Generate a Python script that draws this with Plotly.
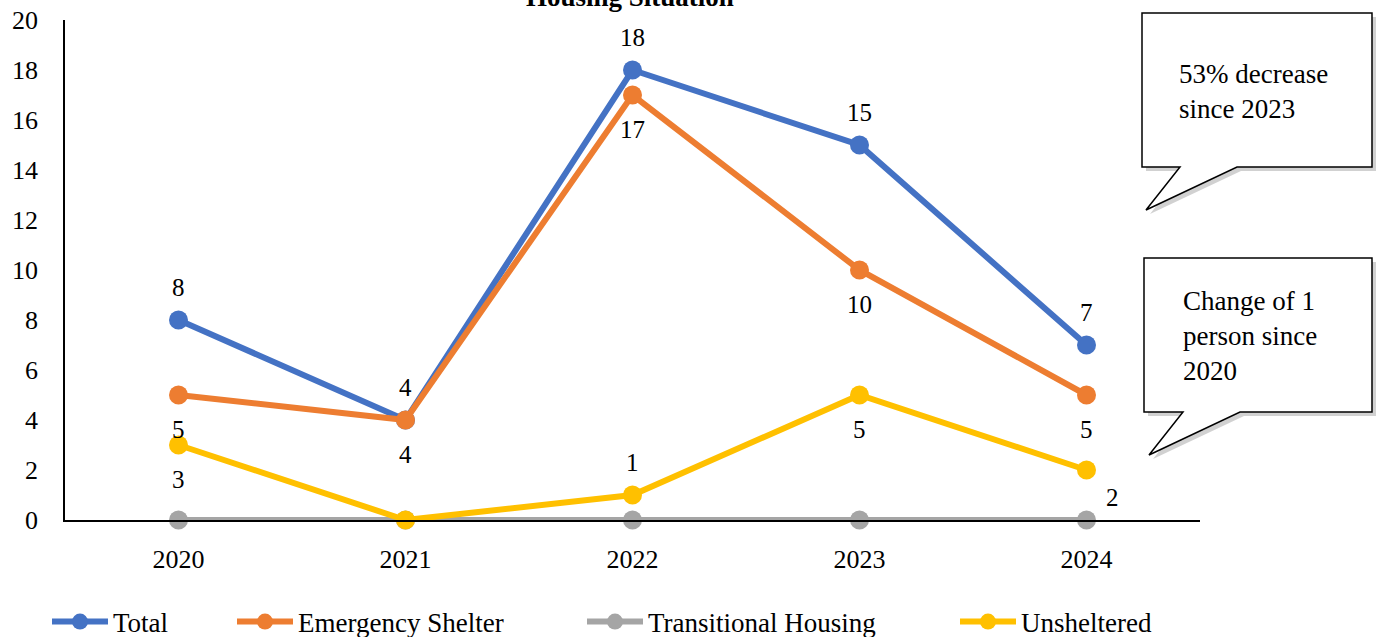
import plotly.graph_objects as go

# ---------------- data ----------------
years = ["2020", "2021", "2022", "2023", "2024"]
total = [8, 4, 18, 15, 7]
emergency_shelter = [5, 4, 17, 10, 5]
transitional_housing = [0, 0, 0, 0, 0]
unsheltered = [3, 0, 1, 5, 2]

series_names = ["Total", "Emergency Shelter", "Transitional Housing", "Unsheltered"]
y_ticks = [0, 2, 4, 6, 8, 10, 12, 14, 16, 18, 20]
chart_title = "Housing Situation"
callout_1 = "53% decrease<br>since 2023"
callout_2 = "Change of 1<br>person since<br>2020"

# ---------------- style ----------------
colors = ["#4472C4", "#ED7D31", "#A5A5A5", "#FFC000"]
FONT = "Liberation Serif, Times New Roman, serif"
W, H = 1376, 637
L, R, T, B = 65, 1200, 20, 520

# label placement per series (None = no label)
label_pos = [
    ["above", "above", "above", "above", "above"],
    ["below", "below", "below", "below", "below"],
    [None, None, None, None, None],
    ["below", None, "above", "below", "below_right"],
]
shift = {"above": (0, 33), "below": (0, -34), "below_right": (26, -27)}


def px_x(p):
    return (p - L) / (R - L)


def px_y(p):
    return (B - p) / (B - T)


def path_px(points):
    return "M " + " L ".join(f"{px_x(x):.5f},{px_y(y):.5f}" for x, y in points) + " Z"


values = [total, emergency_shelter, transitional_housing, unsheltered]

fig = go.Figure()
legend_ids = ["legend", "legend2", "legend3", "legend4"]
for name, vals, col, lg in zip(series_names, values, colors, legend_ids):
    fig.add_trace(go.Scatter(
        x=years, y=vals, name=name, mode="lines+markers",
        line=dict(color=col, width=6),
        marker=dict(color=col, size=19),
        cliponaxis=False, legend=lg,
    ))

annotations = []
for vals, poss in zip(values, label_pos):
    for i, (yv, p) in enumerate(zip(vals, poss)):
        if p is None:
            continue
        dx, dy = shift[p]
        annotations.append(dict(
            x=i, y=yv, xref="x", yref="y", text=str(yv), showarrow=False,
            xshift=dx, yshift=dy, font=dict(family=FONT, size=25, color="black"),
        ))

# title (cropped at top like the reference)
annotations.append(dict(
    x=px_x(630), y=px_y(-3), xref="paper", yref="paper", text=f"<b>{chart_title}</b>",
    showarrow=False, xanchor="center", yanchor="middle",
    font=dict(family=FONT, size=27, color="black"),
))

# callouts
box1 = [(1142, 13), (1372, 13), (1372, 167), (1237, 167), (1146, 210), (1180, 167), (1142, 167)]
box2 = [(1144, 258), (1372, 258), (1372, 412), (1240, 412), (1149, 455), (1183, 412), (1144, 412)]
shapes = []
for box in (box1, box2):
    shadow = [(x + 4, y + 4) for x, y in box]
    shapes.append(dict(type="path", xref="paper", yref="paper", path=path_px(shadow),
                       fillcolor="rgba(0,0,0,0.18)", line=dict(width=0), layer="above"))
    shapes.append(dict(type="path", xref="paper", yref="paper", path=path_px(box),
                       fillcolor="white", line=dict(color="black", width=1.5), layer="above"))

annotations.append(dict(
    x=px_x(1177), y=px_y(91), xref="paper", yref="paper", text=callout_1, showarrow=False,
    xanchor="left", yanchor="middle", align="left",
    font=dict(family=FONT, size=27, color="black"),
))
annotations.append(dict(
    x=px_x(1181), y=px_y(336), xref="paper", yref="paper", text=callout_2, showarrow=False,
    xanchor="left", yanchor="middle", align="left",
    font=dict(family=FONT, size=27, color="black"),
))

legend_x_px = [47, 232, 582, 955]
legend_common = dict(orientation="h", xanchor="left", yanchor="middle",
                     xref="container", yref="container", y=1 - 622 / H,
                     bgcolor="rgba(0,0,0,0)", itemwidth=56,
                     font=dict(family=FONT, size=27, color="black"))
layout_legends = {}
for lg, xp in zip(legend_ids, legend_x_px):
    layout_legends[lg] = dict(legend_common, x=xp / W)

fig.update_layout(
    width=W, height=H,
    margin=dict(l=L, r=W - R, t=T, b=H - B, pad=0),
    paper_bgcolor="white", plot_bgcolor="white",
    font=dict(family=FONT, size=25, color="black"),
    showlegend=True,
    xaxis=dict(type="category", range=[-0.5, 4.5], showgrid=False, zeroline=False,
               showline=True, linecolor="black", linewidth=1.5, ticks="", automargin=False,
               tickfont=dict(family=FONT, size=26, color="black"), ticklabelstandoff=15),
    yaxis=dict(range=[0, 20], tickvals=y_ticks, showgrid=False, zeroline=False,
               showline=True, linecolor="black", linewidth=1.5, ticks="", automargin=False,
               tickfont=dict(family=FONT, size=26, color="black"), ticklabelstandoff=20),
    annotations=annotations,
    shapes=shapes,
    **layout_legends,
)

fig.write_html("out.html", config={"displayModeBar": False},
               post_script="document.body.style.margin='0';document.body.style.overflow='hidden';")
